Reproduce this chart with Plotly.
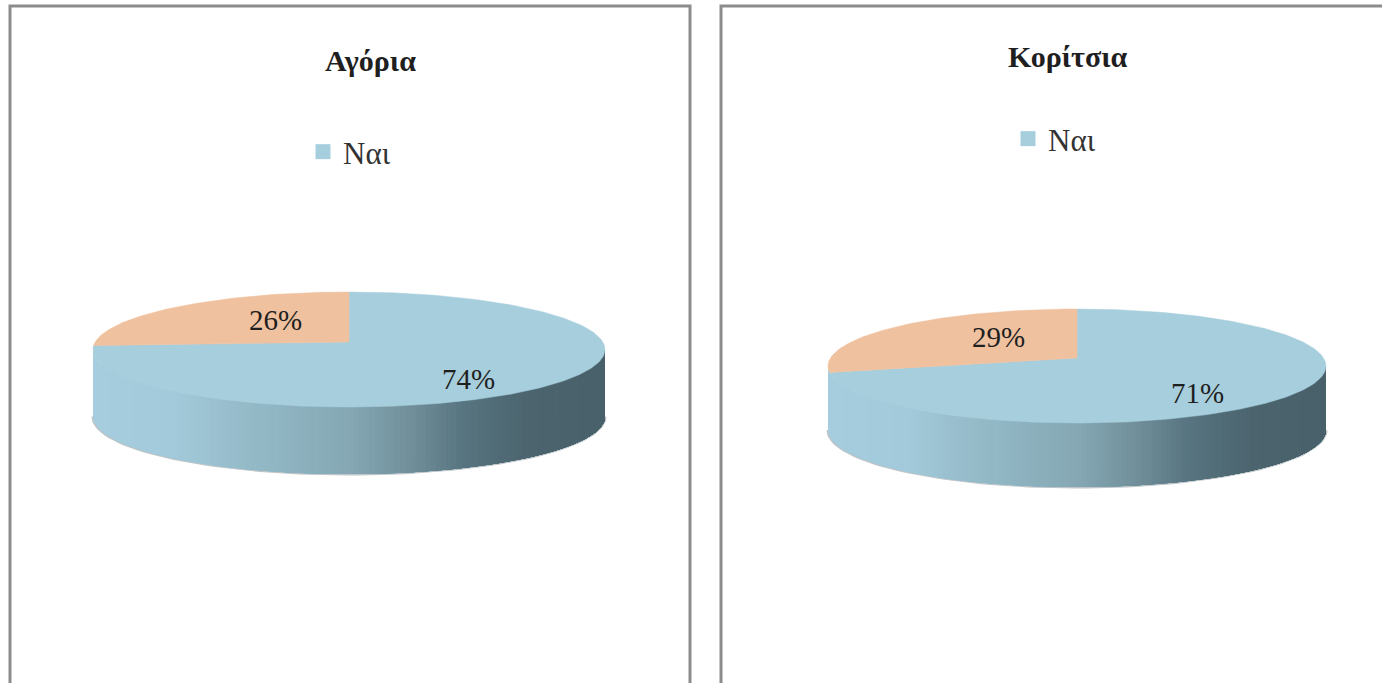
import math
import plotly.graph_objects as go

# Data
titles = ["Αγόρια", "Κορίτσια"]
yes_label = "Ναι"
yes_values = [74, 71]
other_values = [26, 29]

TOP_BLUE = "#A7CEDC"
PEACH = "#F0C19F"
SIDE_STOPS = [(0.0, "#A5CDDD"), (0.15, "#A2CADA"), (0.3, "#94BAC8"), (0.5, "#84A7B3"),
              (0.62, "#6F8E9A"), (0.72, "#577480"), (0.85, "#4B646E"), (1.0, "#48606A")]
TEXT = "#1F1F1F"
SERIF = "Liberation Serif"

W, H = 1382, 683
PANELS = [
    dict(box=(10, 6, 690, 700), cx=349, cy=349.5, rx=256, ry=57.5, k=0.13, depth=67,
         title_xy=(370, 60), legend_xy=(303, 152), yes_xy=(468, 379), other_xy=(275, 320)),
    dict(box=(721, 6, 1400, 700), cx=1077, cy=366, rx=249, ry=57, k=0.14, depth=64,
         title_xy=(1068, 56), legend_xy=(1008, 139), yes_xy=(1197, 393), other_xy=(998, 337)),
]


def project(p, theta, r=1.0):
    """Perspective view of a disc point; theta is clockwise from 12 o'clock."""
    k = p["k"]
    u, v = r * math.sin(theta), r * math.cos(theta)
    w = 1 + k * v
    q = 1 - k * k
    return (p["cx"] + p["rx"] * math.sqrt(q) * u / w,
            p["cy"] - p["ry"] * q * (v / w + k / q))


def wedge(p, start, end, n=90):
    pts = [project(p, start + (end - start) * i / n) for i in range(n + 1)]
    pts.append(project(p, 0, 0))
    pts.append(pts[0])
    return [a for a, _ in pts], [b for _, b in pts]


def mix(t):
    for (a, ca), (b, cb) in zip(SIDE_STOPS, SIDE_STOPS[1:]):
        if t <= b:
            f = (t - a) / (b - a)
            rgb = [round(int(ca[i:i + 2], 16) * (1 - f) + int(cb[i:i + 2], 16) * f) for i in (1, 3, 5)]
            return "rgb(%d,%d,%d)" % tuple(rgb)
    return SIDE_STOPS[-1][1]


def lower_rim(p, t0, n=80):
    # Lower arc of the rim ellipse from horizontal position t0 (0 left, 1 right) to the right end
    start = math.acos(2 * t0 - 1)
    pts = []
    for i in range(n + 1):
        a = start * (1 - i / n)
        pts.append((p["cx"] + p["rx"] * math.cos(a), p["cy"] + p["ry"] * math.sin(a)))
    return pts


def side_strip(p, t0):
    rim = lower_rim(p, t0)
    xs = [a for a, _ in rim] + [a for a, _ in reversed(rim)]
    ys = [b for _, b in rim] + [b + p["depth"] for _, b in reversed(rim)]
    return xs + xs[:1], ys + ys[:1]


fig = go.Figure()
for idx, p in enumerate(PANELS):
    # soft edge under the wall
    rim = lower_rim(p, 0)
    fig.add_trace(go.Scatter(x=[a for a, _ in rim], y=[b + p["depth"] for _, b in rim], mode="lines",
                             line=dict(width=3, color="rgba(70,85,95,0.35)"),
                             hoverinfo="skip", showlegend=False))
    # side wall, painted left to right so that no seams appear
    strips = 100
    for s in range(strips):
        t0 = s / strips
        xs, ys = side_strip(p, t0)
        fig.add_trace(go.Scatter(x=xs, y=ys, mode="lines", fill="toself", fillcolor=mix(t0),
                                 line=dict(width=0), hoverinfo="skip", showlegend=False))
    # top face, from the values
    other_ang = 2 * math.pi * other_values[idx] / (other_values[idx] + yes_values[idx])
    xs, ys = wedge(p, 0, 2 * math.pi - other_ang, 240)
    fig.add_trace(go.Scatter(x=xs, y=ys, mode="lines", fill="toself", fillcolor=TOP_BLUE,
                             line=dict(width=0.5, color=TOP_BLUE), name=yes_label, showlegend=False,
                             hoverinfo="skip"))
    xs, ys = wedge(p, -other_ang, 0, 90)
    fig.add_trace(go.Scatter(x=xs, y=ys, mode="lines", fill="toself", fillcolor=PEACH,
                             line=dict(width=0.5, color=PEACH), showlegend=False, hoverinfo="skip"))
    # legend key
    fig.add_trace(go.Scatter(x=[None], y=[None], mode="markers", name=yes_label,
                             marker=dict(symbol="square", size=15, color=TOP_BLUE),
                             legend="legend" if idx == 0 else "legend2"))
    # data labels
    fig.add_annotation(x=p["yes_xy"][0], y=p["yes_xy"][1], text=f"{yes_values[idx]}%", showarrow=False,
                       font=dict(family=SERIF, size=29, color=TEXT))
    fig.add_annotation(x=p["other_xy"][0], y=p["other_xy"][1], text=f"{other_values[idx]}%", showarrow=False,
                       font=dict(family=SERIF, size=29, color=TEXT))
    fig.add_annotation(x=p["title_xy"][0], y=p["title_xy"][1], text=f"<b>{titles[idx]}</b>", showarrow=False,
                       font=dict(family=SERIF, size=30, color=TEXT))
    # panel frame
    x0, y0, x1, y1 = p["box"]
    fig.add_shape(type="rect", x0=x0, y0=y0, x1=x1, y1=y1, line=dict(color="#8C8C8C", width=3), layer="below")


def legend_at(p):
    return dict(x=p["legend_xy"][0] / W, y=1 - p["legend_xy"][1] / H, xanchor="left", yanchor="middle",
                bgcolor="rgba(0,0,0,0)", font=dict(family=SERIF, size=31, color="#333333"),
                itemclick=False, itemdoubleclick=False)


fig.update_layout(
    width=W, height=H, margin=dict(l=0, r=0, t=0, b=0),
    paper_bgcolor="white", plot_bgcolor="white",
    xaxis=dict(range=[0, W], visible=False, fixedrange=True),
    yaxis=dict(range=[H, 0], visible=False, fixedrange=True),
    legend=legend_at(PANELS[0]), legend2=legend_at(PANELS[1]),
    showlegend=True,
)
fig.write_html("out.html", config=dict(displayModeBar=False),
               post_script="document.body.style.margin='0';document.body.style.overflow='hidden';")
